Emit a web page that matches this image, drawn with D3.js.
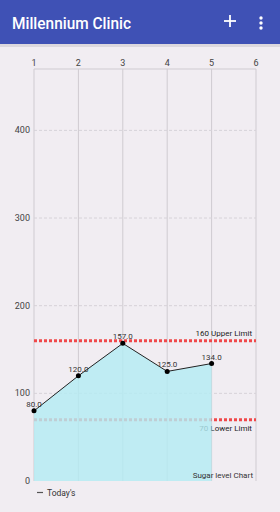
<!DOCTYPE html>
<html>
<head>
<meta charset="utf-8">
<script src="https://cdn.jsdelivr.net/npm/d3@7"></script>
<style>
  body { margin: 0; background: #f1edf2; font-family: Roboto, sans-serif; }
  svg { display: block; }
</style>
</head>
<body>
<div id="app"></div>
<script>
const days = [1, 2, 3, 4, 5];
const sugar = [80, 120, 157, 125, 134];
const xTicks = [1, 2, 3, 4, 5, 6];
const yTicks = [0, 100, 200, 300, 400];
const limits = [
  { value: 160, label: "160 Upper Limit" },
  { value: 70, label: "70 Lower Limit" }
];

const width = 280, height = 512;
const margin = { top: 69, right: 24, bottom: 31, left: 34 };
const plotW = width - margin.left - margin.right;
const plotH = height - margin.top - margin.bottom;

const svg = d3.select("div#app")
  .append("svg")
  .attr("width", width)
  .attr("height", height);

// app bar
svg.append("rect")
  .attr("x", 0).attr("y", 44).attr("width", width).attr("height", 3)
  .style("fill", "#dcd8de");
svg.append("rect")
  .attr("x", 0).attr("y", 0).attr("width", width).attr("height", 44)
  .style("fill", "#3f51b5");
svg.append("text")
  .attr("x", 12).attr("y", 29)
  .attr("fill", "#fff")
  .attr("font-size", "16.5px")
  .attr("font-weight", 500)
  .attr("textLength", 119)
  .attr("lengthAdjust", "spacingAndGlyphs")
  .text("Millennium Clinic");
// plus icon
svg.append("line")
  .attr("x1", 224).attr("x2", 236).attr("y1", 21).attr("y2", 21)
  .style("stroke", "#fff").style("stroke-width", 1.8);
svg.append("line")
  .attr("x1", 230).attr("x2", 230).attr("y1", 15).attr("y2", 27)
  .style("stroke", "#fff").style("stroke-width", 1.8);
// overflow menu
[18, 23, 28].forEach(cy => {
  svg.append("circle").attr("cx", 261).attr("cy", cy).attr("r", 1.7).style("fill", "#fff");
});

const g = svg.append("g")
  .attr("transform", `translate(${margin.left},${margin.top})`);

const x = d3.scaleLinear().domain([1, 6]).range([0, plotW]);
const y = d3.scaleLinear().domain([0, 470]).range([plotH, 0]);

// vertical grid
g.append("g")
  .selectAll("line")
  .data(xTicks)
  .join("line")
  .attr("x1", d => x(d)).attr("x2", d => x(d))
  .attr("y1", 0).attr("y2", plotH)
  .style("stroke", "#cfcbd1")
  .style("stroke-width", 1);

// horizontal dashed grid
g.append("g")
  .selectAll("line")
  .data(yTicks.filter(d => d > 0))
  .join("line")
  .attr("x1", 0).attr("x2", plotW)
  .attr("y1", d => y(d)).attr("y2", d => y(d))
  .style("stroke", "#d6d2d8")
  .style("stroke-dasharray", "3,2");

// top axis line
g.append("line")
  .attr("x1", 0).attr("x2", plotW)
  .attr("y1", 0).attr("y2", 0)
  .style("stroke", "#cfcbd1");

// x tick labels (top)
g.append("g")
  .selectAll("text")
  .data(xTicks)
  .join("text")
  .attr("x", d => x(d))
  .attr("y", -3)
  .attr("text-anchor", "middle")
  .attr("font-size", "9px")
  .attr("fill", "#444")
  .text(d => d);

// y tick labels
g.append("g")
  .selectAll("text")
  .data(yTicks)
  .join("text")
  .attr("x", -4)
  .attr("y", d => y(d) + 3)
  .attr("text-anchor", "end")
  .attr("font-size", "9px")
  .attr("fill", "#444")
  .text(d => d);

// limit lines (behind the fill)
g.append("g")
  .selectAll("line")
  .data(limits)
  .join("line")
  .attr("x1", 0).attr("x2", plotW)
  .attr("y1", d => y(d.value)).attr("y2", d => y(d.value))
  .style("stroke", "#f0484a")
  .style("stroke-width", 3)
  .style("stroke-dasharray", "3,2");

g.append("g")
  .selectAll("text")
  .data(limits)
  .join("text")
  .attr("x", plotW - 4)
  .attr("y", (d, i) => i === 0 ? y(d.value) - 5 : y(d.value) + 11)
  .attr("text-anchor", "end")
  .attr("font-size", "8px")
  .attr("fill", "#222")
  .text(d => d.label);

// area
const pts = days.map((d, i) => ({ day: d, v: sugar[i] }));
const area = d3.area()
  .x(d => x(d.day))
  .y0(plotH)
  .y1(d => y(d.v));
g.append("path")
  .datum(pts)
  .attr("d", area)
  .style("fill", "#b3ecf3")
  .style("opacity", 0.82);

const line = d3.line()
  .x(d => x(d.day))
  .y(d => y(d.v));
g.append("path")
  .datum(pts)
  .attr("d", line)
  .style("fill", "none")
  .style("stroke", "#222")
  .style("stroke-width", 1);

g.append("g")
  .selectAll("circle")
  .data(pts)
  .join("circle")
  .attr("cx", d => x(d.day))
  .attr("cy", d => y(d.v))
  .attr("r", 2.5)
  .style("fill", "#000");

g.append("g")
  .selectAll("text")
  .data(pts)
  .join("text")
  .attr("x", d => x(d.day))
  .attr("y", d => y(d.v) - 4)
  .attr("text-anchor", "middle")
  .attr("font-size", "8px")
  .attr("fill", "#333")
  .text(d => d.v.toFixed(1));

// description
g.append("text")
  .attr("x", plotW - 3)
  .attr("y", plotH - 3)
  .attr("text-anchor", "end")
  .attr("font-size", "8px")
  .attr("fill", "#333")
  .text("Sugar level Chart");

// legend
svg.append("line")
  .attr("x1", 37).attr("x2", 43)
  .attr("y1", 492.5).attr("y2", 492.5)
  .style("stroke", "#555")
  .style("stroke-width", 1.2);
svg.append("text")
  .attr("x", 47).attr("y", 496)
  .attr("font-size", "8.5px")
  .attr("fill", "#333")
  .text("Today's");
</script>
</body>
</html>
